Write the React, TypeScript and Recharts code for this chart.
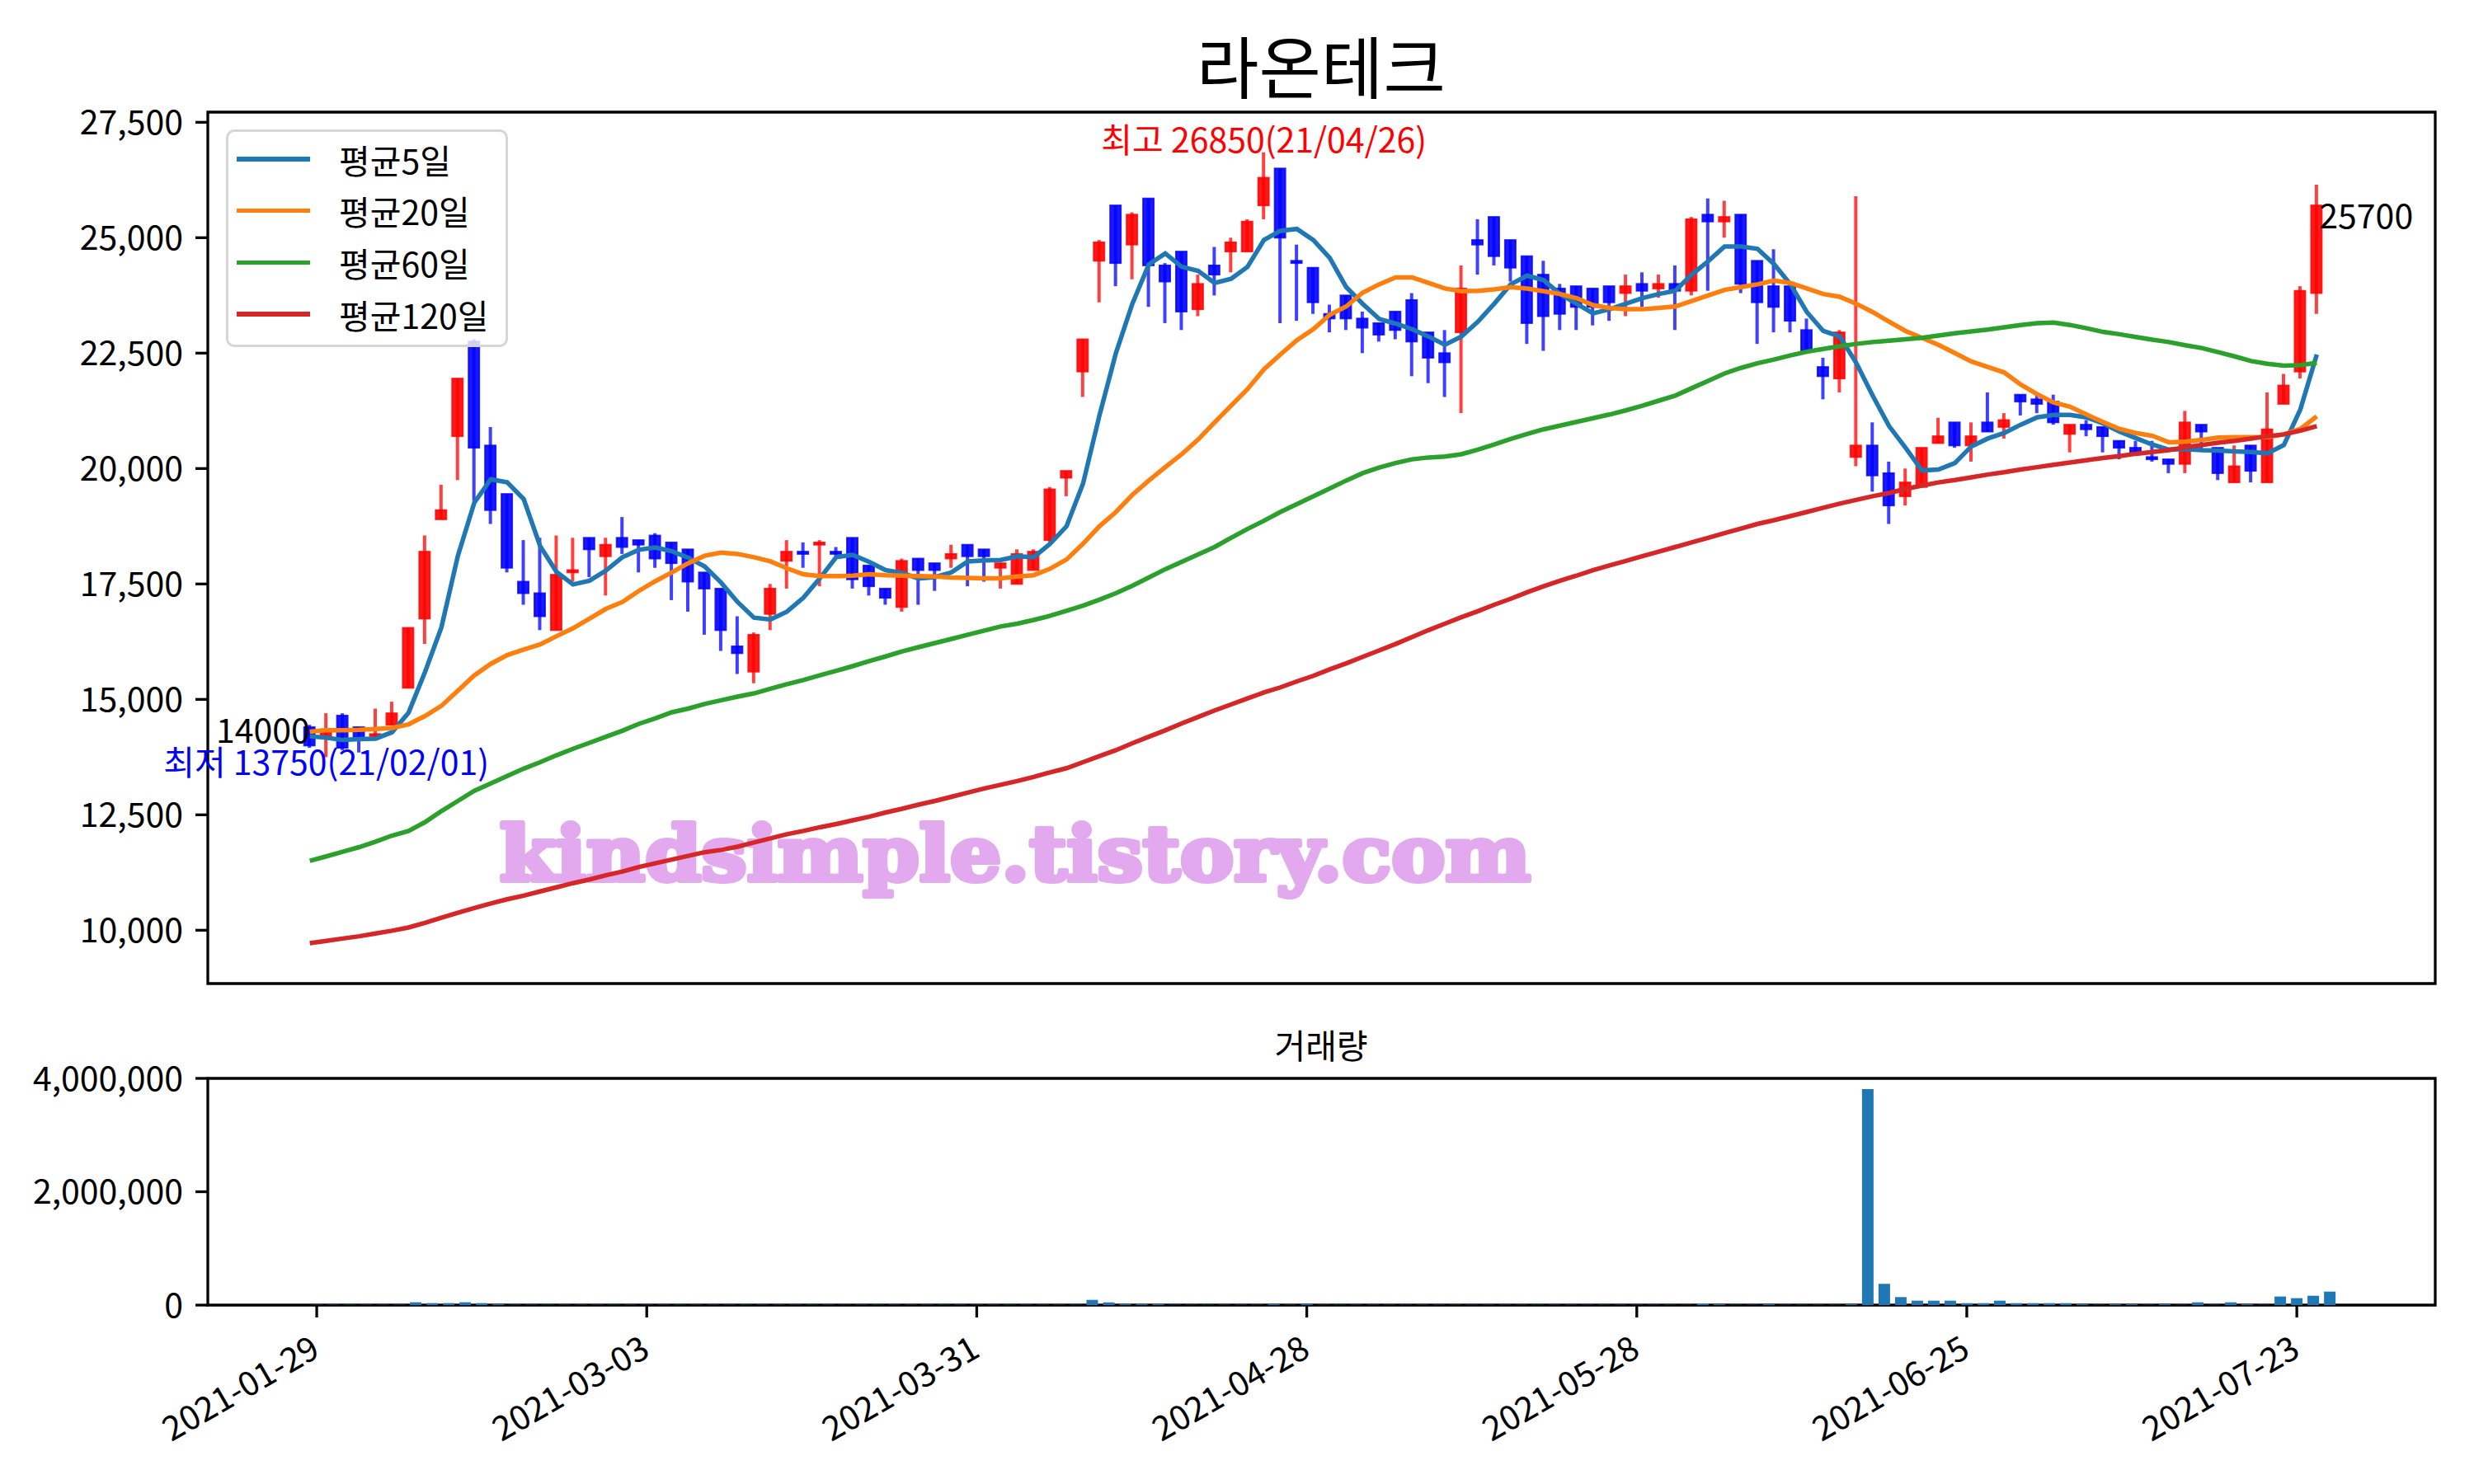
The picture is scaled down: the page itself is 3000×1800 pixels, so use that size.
import { ComposedChart, Bar, Line, XAxis, YAxis, ReferenceArea, ReferenceDot } from "recharts";

const FONT = "'Noto Sans CJK KR', 'Noto Sans', sans-serif";

const title = "라온테크";
const volumeTitle = "거래량";
const watermark = "kindsimple.tistory.com";

const dates = [
  "2021-01-29", "2021-02-01", "2021-02-02", "2021-02-03", "2021-02-04", "2021-02-05", "2021-02-08", "2021-02-09", "2021-02-10", "2021-02-15",
  "2021-02-16", "2021-02-17", "2021-02-18", "2021-02-19", "2021-02-22", "2021-02-23", "2021-02-24", "2021-02-25", "2021-02-26", "2021-03-02",
  "2021-03-03", "2021-03-04", "2021-03-05", "2021-03-08", "2021-03-09", "2021-03-10", "2021-03-11", "2021-03-12", "2021-03-15", "2021-03-16",
  "2021-03-17", "2021-03-18", "2021-03-19", "2021-03-22", "2021-03-23", "2021-03-24", "2021-03-25", "2021-03-26", "2021-03-29", "2021-03-30",
  "2021-03-31", "2021-04-01", "2021-04-02", "2021-04-05", "2021-04-06", "2021-04-07", "2021-04-08", "2021-04-09", "2021-04-12", "2021-04-13",
  "2021-04-14", "2021-04-15", "2021-04-16", "2021-04-19", "2021-04-20", "2021-04-21", "2021-04-22", "2021-04-23", "2021-04-26", "2021-04-27",
  "2021-04-28", "2021-04-29", "2021-04-30", "2021-05-03", "2021-05-04", "2021-05-06", "2021-05-07", "2021-05-10", "2021-05-11", "2021-05-12",
  "2021-05-13", "2021-05-14", "2021-05-17", "2021-05-18", "2021-05-20", "2021-05-21", "2021-05-24", "2021-05-25", "2021-05-26", "2021-05-27",
  "2021-05-28", "2021-05-31", "2021-06-01", "2021-06-02", "2021-06-03", "2021-06-04", "2021-06-07", "2021-06-08", "2021-06-09", "2021-06-10",
  "2021-06-11", "2021-06-14", "2021-06-15", "2021-06-16", "2021-06-17", "2021-06-18", "2021-06-21", "2021-06-22", "2021-06-23", "2021-06-24",
  "2021-06-25", "2021-06-28", "2021-06-29", "2021-06-30", "2021-07-01", "2021-07-02", "2021-07-05", "2021-07-06", "2021-07-07", "2021-07-08",
  "2021-07-09", "2021-07-12", "2021-07-13", "2021-07-14", "2021-07-15", "2021-07-16", "2021-07-19", "2021-07-20", "2021-07-21", "2021-07-22",
  "2021-07-23", "2021-07-26", "2021-07-27",
];

const opens = [
  14400, 14200, 14650, 14400, 14200, 14450, 15250, 16750, 18900, 20700,
  22750, 20500, 19450, 17550, 17300, 16500, 17750, 18500, 18100, 18500,
  18450, 18550, 18400, 18250, 17750, 17400, 16150, 15600, 16850, 18000,
  18200, 18350, 18200, 18500, 17900, 17400, 17000, 18050, 17950, 18050,
  18350, 18250, 17850, 17500, 17800, 18450, 19800, 22100, 24500, 25700,
  24850, 25850, 24400, 24700, 23450, 24400, 24700, 24700, 25700, 26500,
  24500, 24350, 23350, 23750, 23250, 23150, 23400, 23650, 22950, 22500,
  22950, 24950, 25450, 24950, 24600, 24200, 23900, 23950, 23900, 23950,
  23800, 24000, 23900, 24000, 23850, 25500, 25350, 25500, 24500, 23950,
  23950, 23000, 22200, 21950, 20250, 20500, 19900, 19400, 19600, 20550,
  21000, 20500, 21000, 20900, 21600, 21500, 21450, 20750, 20950, 20900,
  20600, 20450, 20250, 20200, 20100, 20950, 20450, 19700, 20500, 19700,
  21400, 22100, 23800,
];

const highs = [
  14450, 14700, 14700, 14400, 14800, 14950, 16550, 18550, 19650, 21950,
  22800, 20900, 19450, 18450, 18500, 18550, 18500, 18500, 18500, 18950,
  18450, 18600, 18400, 18250, 17750, 17400, 16800, 16450, 17500, 18450,
  18400, 18450, 18300, 18500, 17900, 17400, 18050, 18050, 17950, 18350,
  18350, 18250, 17950, 18250, 18250, 19600, 19950, 22800, 24950, 25700,
  25550, 25850, 24450, 24700, 24200, 24800, 25000, 25400, 26850, 26500,
  24850, 24350, 23550, 23750, 23400, 23150, 23400, 23800, 22950, 23000,
  24400, 25400, 25450, 24950, 24600, 24500, 24000, 23950, 23900, 23950,
  24200, 24250, 24200, 24400, 25450, 25850, 25800, 25500, 24500, 24750,
  23950, 23250, 22400, 23000, 25900, 21000, 20150, 20000, 20450, 21100,
  21000, 21000, 21650, 21200, 21600, 21600, 21600, 20950, 21050, 20900,
  20600, 20600, 20600, 20200, 21250, 20950, 20450, 20500, 20500, 21650,
  22050, 23950, 26150,
];

const lows = [
  13950, 13750, 13900, 13850, 14150, 14450, 15250, 16200, 18900, 19750,
  19300, 18800, 17750, 17050, 16500, 16500, 17550, 17650, 17250, 18150,
  17750, 17850, 17150, 16900, 16400, 16050, 15550, 15350, 16500, 17400,
  17850, 17450, 18100, 17400, 17250, 17050, 16900, 17050, 17350, 17850,
  17450, 17550, 17400, 17500, 17800, 18400, 19400, 21550, 23600, 23950,
  24100, 23500, 23150, 23000, 23300, 23750, 24250, 24700, 25400, 23150,
  23200, 23350, 22950, 23000, 22500, 22750, 22800, 22000, 21850, 21550,
  21200, 24200, 24400, 24050, 22700, 22550, 23000, 23000, 23100, 23200,
  23300, 23500, 23700, 23000, 23750, 23850, 25000, 23800, 22700, 22950,
  22950, 22500, 21500, 21650, 20050, 19500, 18800, 19200, 19600, 20550,
  20450, 20150, 20800, 20650, 21150, 21200, 20950, 20350, 20700, 20350,
  20200, 20300, 20150, 19900, 19900, 20400, 19750, 19700, 19700, 19700,
  21400, 21950, 23350,
];

const closes = [
  14000, 14350, 13950, 14150, 14250, 14700, 16550, 18200, 19100, 21950,
  20450, 19100, 17850, 17300, 16800, 17700, 17800, 18250, 18350, 18300,
  18350, 18050, 17950, 17550, 17400, 16500, 16000, 16400, 17400, 18200,
  18150, 18400, 18150, 17600, 17450, 17200, 18000, 17800, 17800, 18150,
  18100, 18100, 17950, 18150, 18200, 19550, 19950, 22800, 24900, 24450,
  25500, 24400, 24050, 23400, 24000, 24200, 24900, 25350, 26300, 25000,
  24450, 23600, 23250, 23250, 23050, 22900, 23000, 22750, 22400, 22300,
  23900, 24850, 24600, 24350, 23150, 23300, 23350, 23500, 23500, 23600,
  23950, 23850, 24000, 23850, 25400, 25350, 25450, 24000, 23600, 23500,
  23200, 22550, 22000, 22950, 20500, 19850, 19200, 19700, 20450, 20700,
  20500, 20700, 20800, 21050, 21450, 21400, 21000, 20950, 20850, 20700,
  20450, 20350, 20200, 20100, 21000, 20800, 19900, 20050, 19950, 20850,
  21800, 23850, 25700,
];

const ma5 = [
  14200, 14170, 14120, 14140, 14150, 14290, 14710, 15590, 16560, 18110,
  19260, 19770, 19700, 19340, 18320, 17760, 17490, 17570, 17790, 18080,
  18240, 18290, 18210, 18070, 17880, 17530, 17110, 16770, 16730, 16900,
  17200, 17620, 18080, 18130, 17980, 17800, 17740, 17620, 17650, 17750,
  17990, 18010, 18020, 18100, 18080, 18370, 18750, 19670, 21150, 22500,
  23570, 24420, 24660, 24370, 24280, 24020, 24110, 24370, 24950, 25150,
  25190, 24950, 24560, 23930, 23570, 23240, 23140, 23020, 22860, 22680,
  22860, 23180, 23570, 23990, 24180, 24080, 23780, 23570, 23360, 23450,
  23570, 23690, 23780, 23850, 24200, 24490, 24810, 24810, 24760, 24430,
  23990, 23390, 22980, 22860, 22290, 21580, 20920, 20450, 19960, 19980,
  20120, 20480, 20650, 20770, 20950, 21110, 21160, 21160, 21110, 20980,
  20800, 20660, 20520, 20410, 20420, 20400, 20390, 20370, 20360, 20330,
  20510, 21280, 22470,
];

const ma20 = [
  14300, 14330, 14330, 14340, 14360, 14380, 14460, 14640, 14860, 15190,
  15520, 15770, 15960, 16080, 16190, 16370, 16540, 16750, 16960, 17110,
  17350, 17560, 17750, 17950, 18110, 18180, 18150, 18080, 17990, 17840,
  17710, 17670, 17670, 17680, 17710, 17690, 17680, 17670, 17660, 17640,
  17630, 17620, 17620, 17660, 17690, 17830, 18030, 18370, 18750, 19060,
  19430, 19740, 20030, 20310, 20630, 21000, 21360, 21720, 22150, 22470,
  22780, 23020, 23330, 23510, 23810, 23990, 24140, 24140, 24020, 23900,
  23840, 23850, 23880, 23930, 23900, 23840, 23780, 23690, 23540, 23480,
  23450, 23450, 23480, 23510, 23630, 23750, 23870, 23930, 23990, 24070,
  24020, 23900, 23780, 23720, 23570, 23390, 23180, 22980, 22830, 22680,
  22500, 22320, 22200, 22080, 21820, 21610, 21430, 21340, 21170, 21010,
  20860, 20770, 20710, 20570, 20580, 20620, 20670, 20680, 20680, 20680,
  20740, 20860, 21130,
];

const ma60 = [
  11505, 11600, 11700, 11800, 11920, 12050, 12150, 12340, 12580, 12800,
  13020, 13180, 13340, 13500, 13640, 13790, 13930, 14060, 14190, 14320,
  14470, 14590, 14720, 14800, 14900, 14980, 15060, 15130, 15230, 15330,
  15420, 15520, 15620, 15720, 15830, 15930, 16040, 16130, 16220, 16310,
  16400, 16490, 16580, 16640, 16720, 16810, 16920, 17030, 17160, 17300,
  17460, 17640, 17820, 17980, 18140, 18300, 18500, 18690, 18870, 19060,
  19230, 19400, 19570, 19740, 19900, 20020, 20120, 20200, 20240, 20260,
  20310, 20410, 20520, 20640, 20750, 20850, 20930, 21010, 21090, 21170,
  21260, 21360, 21470, 21580, 21740, 21900, 22060, 22180, 22280, 22360,
  22450, 22530, 22590, 22650, 22700, 22740, 22770, 22800, 22830, 22880,
  22930, 22970, 23010, 23060, 23110, 23150, 23160, 23110, 23040, 22960,
  22910, 22850, 22790, 22740, 22670, 22610, 22520, 22430, 22330, 22270,
  22230, 22240, 22290,
];

const ma120 = [
  9720, 9770, 9820, 9870, 9930, 9990, 10060, 10160, 10270, 10380,
  10480, 10580, 10670, 10750, 10840, 10930, 11020, 11100, 11190, 11270,
  11370, 11450, 11530, 11610, 11690, 11740, 11810, 11900, 11990, 12080,
  12150, 12230, 12300, 12380, 12460, 12550, 12630, 12720, 12800, 12890,
  12980, 13070, 13150, 13230, 13320, 13420, 13510, 13640, 13770, 13900,
  14050, 14190, 14330, 14480, 14620, 14760, 14890, 15020, 15150, 15260,
  15390, 15510, 15650, 15780, 15920, 16060, 16200, 16350, 16500, 16640,
  16780, 16910, 17050, 17180, 17320, 17450, 17570, 17680, 17800, 17900,
  18000, 18100, 18200, 18300, 18400, 18500, 18600, 18700, 18800, 18880,
  18970, 19060, 19150, 19240, 19320, 19400, 19470, 19560, 19630, 19700,
  19750, 19810, 19870, 19920, 19980, 20030, 20080, 20130, 20180, 20230,
  20270, 20320, 20360, 20400, 20460, 20510, 20560, 20600, 20650, 20700,
  20740, 20820, 20920,
];

const volumes = [
  5000, 5000, 5000, 5000, 5000, 5000, 50000, 35000, 35000, 50000,
  35000, 15000, 5000, 5000, 5000, 5000, 5000, 5000, 5000, 5000,
  5000, 5000, 5000, 5000, 5000, 5000, 5000, 5000, 5000, 5000,
  5000, 5000, 5000, 5000, 5000, 5000, 5000, 5000, 5000, 5000,
  5000, 5000, 5000, 5000, 5000, 5000, 5000, 92000, 48000, 19000,
  19000, 19000, 5000, 5000, 5000, 5000, 5000, 5000, 19000, 5000,
  19000, 5000, 5000, 5000, 5000, 5000, 5000, 5000, 5000, 5000,
  5000, 5000, 5000, 5000, 5000, 5000, 5000, 5000, 5000, 5000,
  5000, 5000, 5000, 5000, 29000, 15000, 5000, 5000, 15000, 5000,
  5000, 5000, 5000, 15000, 3810000, 375000, 141000, 78000, 78000, 78000,
  34000, 34000, 78000, 34000, 34000, 34000, 34000, 15000, 5000, 15000,
  15000, 5000, 15000, 5000, 49000, 5000, 49000, 15000, 5000, 151000,
  122000, 165000, 238000,
];

const series = [
  { key: "ma5", name: "평균5일", color: "#1f77b4" },
  { key: "ma20", name: "평균20일", color: "#ff7f0e" },
  { key: "ma60", name: "평균60일", color: "#2ca02c" },
  { key: "ma120", name: "평균120일", color: "#d62728" },
];

const priceTicks = [10000, 12500, 15000, 17500, 20000, 22500, 25000, 27500];
const volumeTicks = [0, 2000000, 4000000];
const dateTicks = [0, 20, 40, 60, 80, 100, 120];

const rows = dates.map((date, i) => ({
  idx: i,
  date,
  open: opens[i],
  high: highs[i],
  low: lows[i],
  close: closes[i],
  ma5: ma5[i],
  ma20: ma20[i],
  ma60: ma60[i],
  ma120: ma120[i],
  volume: volumes[i],
}));

const PRICE_DOMAIN: [number, number] = [8845, 27720];
const MAIN_X: [number, number] = [-6.2, 129.2];
const VOL_X: [number, number] = [-6.6, 128.39];

const fmt = (v: number) => v.toLocaleString("en-US");
const shortDate = (d: string) => d.slice(2).replace(/-/g, "/");

const hiIdx = highs.indexOf(Math.max(...highs));
const loIdx = lows.indexOf(Math.min(...lows));
const lastIdx = closes.length - 1;

function Candle(props: any) {
  const { x, y, width, height, payload } = props;
  if (!payload) return null;
  const { open, close, high, low } = payload;
  const top = Math.min(y, y + height);
  const h = Math.abs(height);
  const k = high > low ? h / (high - low) : 0;
  const py = (v: number) => top + (high - v) * k;
  const color = close >= open ? "#ff0000" : "#0000ff";
  const cx = x + width / 2;
  const bTop = py(Math.max(open, close));
  const bh = Math.max(py(Math.min(open, close)) - bTop, 2);
  return (
    <g>
      <line x1={cx} x2={cx} y1={top} y2={top + h} stroke={color} strokeOpacity={0.75} strokeWidth={4} />
      <rect
        x={x + 1}
        y={bTop}
        width={width - 2}
        height={bh}
        fill={color}
        fillOpacity={0.9}
        stroke={color}
        strokeOpacity={0.8}
        strokeWidth={2}
      />
    </g>
  );
}

function DateTick(props: any) {
  const { x, y, payload } = props;
  const label = dates[payload.value] ?? "";
  return (
    <text
      x={0}
      y={0}
      dy={30}
      textAnchor="end"
      transform={`translate(${x - 9},${y + 6}) rotate(-30)`}
      fontSize={41}
      fontFamily={FONT}
      fill="#000"
    >
      {label}
    </text>
  );
}

const tickStyle = { fontSize: 41, fill: "#000", fontFamily: FONT };

export default function App() {
  return (
    <div style={{ position: "absolute", left: 0, top: 0, width: 3000, height: 1800, background: "#fff" }}>
      {/* background texts: title, volume title, watermark */}
      <svg width={3000} height={1800} style={{ position: "absolute", left: 0, top: 0 }}>
        <text x={1602} y={77} textAnchor="middle" dominantBaseline="central" fontSize={82} fontFamily={FONT} fill="#000">
          {title}
        </text>
        <text x={1602} y={1266} textAnchor="middle" dominantBaseline="central" fontSize={41} fontFamily={FONT} fill="#000">
          {volumeTitle}
        </text>
        <text
          x={1231}
          y={1068}
          textAnchor="middle"
          fontSize={92}
          fontWeight="bold"
          fontFamily="'DejaVu Serif', serif"
          fill="#e3a9ee"
          stroke="#e3a9ee"
          strokeWidth={6}
          strokeLinejoin="round"
          textLength={1250}
          lengthAdjust="spacingAndGlyphs"
        >
          {watermark}
        </text>
      </svg>

      {/* price chart */}
      <div style={{ position: "absolute", left: 0, top: 0 }}>
        <ComposedChart width={3000} height={1240} data={rows} margin={{ top: 136, right: 47, bottom: 0, left: 0 }}>
          <XAxis
            type="number"
            dataKey="idx"
            domain={MAIN_X}
            allowDataOverflow
            ticks={dateTicks}
            interval={0}
            tick={false}
            tickSize={15}
            axisLine={false}
            stroke="#000"
            tickLine={{ strokeWidth: 3.3 }}
            height={47}
          />
          <YAxis
            type="number"
            domain={PRICE_DOMAIN}
            allowDataOverflow
            ticks={priceTicks}
            interval={0}
            width={252}
            tickSize={15}
            tickMargin={15}
            axisLine={false}
            stroke="#000"
            tickLine={{ strokeWidth: 3.3 }}
            tick={tickStyle}
            tickFormatter={fmt}
          />
          <Bar
            dataKey={(d: any) => [d.low, d.high]}
            barSize={15}
            shape={(p: any) => <Candle {...p} />}
            isAnimationActive={false}
          />
          {series.map((s) => (
            <Line
              key={s.key}
              type="linear"
              dataKey={s.key}
              name={s.name}
              stroke={s.color}
              strokeWidth={5.5}
              dot={false}
              isAnimationActive={false}
            />
          ))}
          <ReferenceArea
            x1={MAIN_X[0]}
            x2={MAIN_X[1]}
            y1={PRICE_DOMAIN[0]}
            y2={PRICE_DOMAIN[1]}
            fill="none"
            fillOpacity={0}
            stroke="#000"
            strokeWidth={3.3}
            ifOverflow="visible"
          />
          <ReferenceDot
            x={hiIdx}
            y={highs[hiIdx]}
            ifOverflow="visible"
            shape={(p: any) => (
              <text x={p.cx} y={p.cy} textAnchor="middle" fontSize={41} fontFamily={FONT} fill="#ff0000">
                {`최고 ${highs[hiIdx]}(${shortDate(dates[hiIdx])})`}
              </text>
            )}
          />
          <ReferenceDot
            x={loIdx}
            y={lows[loIdx]}
            ifOverflow="visible"
            shape={(p: any) => (
              <text x={p.cx} y={p.cy + 22} textAnchor="middle" fontSize={41} fontFamily={FONT} fill="#0000ff">
                {`최저 ${lows[loIdx]}(${shortDate(dates[loIdx])})`}
              </text>
            )}
          />
          <ReferenceDot
            x={0}
            y={closes[0]}
            ifOverflow="visible"
            shape={(p: any) => (
              <text x={p.cx} y={p.cy - 3} textAnchor="end" fontSize={41} fontFamily={FONT} fill="#000">
                {closes[0]}
              </text>
            )}
          />
          <ReferenceDot
            x={lastIdx}
            y={closes[lastIdx]}
            ifOverflow="visible"
            shape={(p: any) => (
              <text x={p.cx + 3} y={p.cy + 28} textAnchor="start" fontSize={41} fontFamily={FONT} fill="#000">
                {closes[lastIdx]}
              </text>
            )}
          />
        </ComposedChart>
      </div>

      {/* volume chart */}
      <div style={{ position: "absolute", left: 0, top: 1240 }}>
        <ComposedChart width={3000} height={560} data={rows} margin={{ top: 68, right: 47, bottom: 0, left: 0 }}>
          <XAxis
            type="number"
            dataKey="idx"
            domain={VOL_X}
            allowDataOverflow
            ticks={dateTicks}
            interval={0}
            tick={<DateTick />}
            tickSize={15}
            tickMargin={14}
            axisLine={false}
            stroke="#000"
            tickLine={{ strokeWidth: 3.3 }}
            height={217}
          />
          <YAxis
            type="number"
            domain={[0, 4000000]}
            allowDataOverflow
            ticks={volumeTicks}
            interval={0}
            width={252}
            tickSize={15}
            tickMargin={15}
            axisLine={false}
            stroke="#000"
            tickLine={{ strokeWidth: 3.3 }}
            tick={tickStyle}
            tickFormatter={fmt}
          />
          <Bar dataKey="volume" fill="#1f77b4" barSize={14} isAnimationActive={false} />
          <ReferenceArea
            x1={VOL_X[0]}
            x2={VOL_X[1]}
            y1={0}
            y2={4000000}
            fill="none"
            fillOpacity={0}
            stroke="#000"
            strokeWidth={3.3}
            ifOverflow="visible"
          />
        </ComposedChart>
      </div>

      {/* legend */}
      <div
        style={{
          position: "absolute",
          left: 274,
          top: 157,
          width: 342,
          height: 264,
          boxSizing: "border-box",
          border: "3px solid #d6d6d6",
          borderRadius: 10,
          background: "rgba(255,255,255,0.8)",
          fontFamily: FONT,
        }}
      >
        {series.map((s, i) => (
          <div
            key={s.key}
            style={{
              position: "absolute",
              left: 0,
              top: 3 + i * 62.7,
              height: 60,
              display: "flex",
              alignItems: "center",
            }}
          >
            <div style={{ width: 89, height: 5.5, marginLeft: 10, background: s.color }} />
            <span style={{ marginLeft: 35, fontSize: 41, lineHeight: 1, color: "#000", whiteSpace: "nowrap" }}>{s.name}</span>
          </div>
        ))}
      </div>
    </div>
  );
}
